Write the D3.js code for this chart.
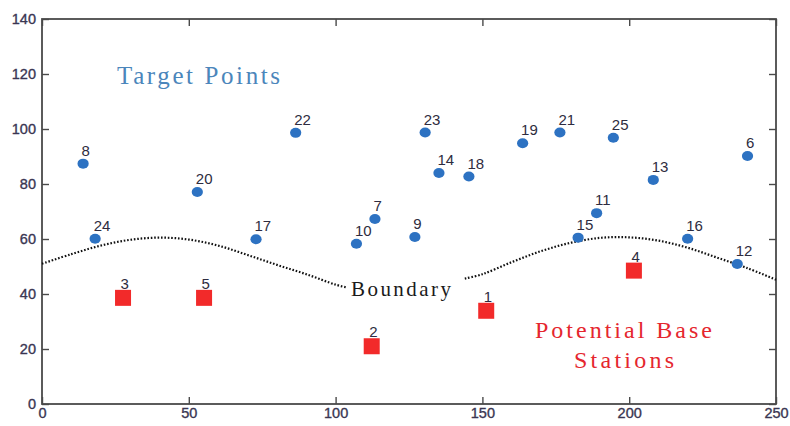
<!DOCTYPE html>
<html>
<head>
<meta charset="utf-8">
<script src="https://cdn.jsdelivr.net/npm/d3@7/dist/d3.min.js"></script>
<style>
  html, body { margin: 0; padding: 0; background: #fff; }
  svg { display: block; }
</style>
</head>
<body>
<svg id="chart" width="790" height="426"></svg>
<script>
// Target points (id, x, y)
const targetIds = [6, 7, 8, 9, 10, 11, 12, 13, 14, 15, 16, 17, 18, 19, 20, 21, 22, 23, 24, 25];
const targetX   = [240.3, 113.4, 14.0, 127.0, 107.1, 188.9, 236.8, 208.2, 135.2, 182.6, 219.9, 72.9, 145.4, 163.7, 52.9, 176.4, 86.4, 130.5, 18.1, 194.6];
const targetY   = [90.2, 67.3, 87.4, 60.7, 58.3, 69.4, 50.9, 81.5, 84.0, 60.5, 60.1, 59.9, 82.7, 94.8, 77.1, 98.7, 98.6, 98.7, 60.1, 96.8];

// Potential base stations (id, x, y)
const stationIds = [1, 2, 3, 4, 5];
const stationX   = [151.3, 112.3, 27.6, 201.6, 55.2];
const stationY   = [33.9, 21.0, 38.6, 48.5, 38.6];

// Boundary curve, drawn in two pieces around its label
const boundaryLeftX  = [0, 10, 20, 30, 40, 50, 60, 70, 80, 90, 100, 104];
const boundaryLeftY  = [51, 54.5, 57.6, 59.7, 60.5, 59.8, 57.6, 54.2, 50.6, 47.2, 43.4, 42.3];
const boundaryRightX = [144, 150, 160, 170, 180, 190, 200, 210, 220, 230, 240, 250];
const boundaryRightY = [45.6, 47.2, 51.6, 55.6, 58.6, 60.4, 60.6, 59.4, 56.8, 53.2, 49.5, 45.2];

// Axis ticks
const xTicks = [0, 50, 100, 150, 200, 250];
const yTicks = [0, 20, 40, 60, 80, 100, 120, 140];

const W = 790, H = 426;
const margin = { top: 19, right: 14, bottom: 22, left: 42 };

const svg = d3.select("#chart");

const x = d3.scaleLinear().domain([0, 250]).range([margin.left, W - margin.right]);
const y = d3.scaleLinear().domain([0, 140]).range([H - margin.bottom, margin.top]);

const axisColor = "#4a4a4a";
const tickTextColor = "#3a3652";
const tickLen = 7;

// Frame ticks on all four sides, pointing inward
svg.append("g")
  .attr("transform", `translate(0,${y(0)})`)
  .call(d3.axisBottom(x).tickValues(xTicks).tickSizeInner(-tickLen).tickSizeOuter(0).tickPadding(4))
  .call(g => g.select(".domain").remove());

svg.append("g")
  .attr("transform", `translate(${x(0)},0)`)
  .call(d3.axisLeft(y).tickValues(yTicks).tickSizeInner(-tickLen).tickSizeOuter(0).tickPadding(6))
  .call(g => g.select(".domain").remove());

svg.append("g")
  .attr("transform", `translate(0,${y(140)})`)
  .call(d3.axisTop(x).tickValues(xTicks).tickSizeInner(-tickLen).tickSizeOuter(0).tickFormat(""))
  .call(g => g.select(".domain").remove());

svg.append("g")
  .attr("transform", `translate(${x(250)},0)`)
  .call(d3.axisRight(y).tickValues(yTicks).tickSizeInner(-tickLen).tickSizeOuter(0).tickFormat(""))
  .call(g => g.select(".domain").remove());

svg.selectAll(".tick line").attr("stroke", axisColor).attr("stroke-width", 1.4);
svg.selectAll(".tick text")
  .attr("fill", tickTextColor)
  .attr("stroke", tickTextColor)
  .attr("stroke-width", 0.35)
  .style("font-family", "'Liberation Sans', Arial, sans-serif")
  .style("font-size", "14.5px");

// Plot box
svg.append("rect")
  .attr("x", x(0)).attr("y", y(140))
  .attr("width", x(250) - x(0)).attr("height", y(0) - y(140))
  .attr("fill", "none").attr("stroke", axisColor).attr("stroke-width", 1.8);

// Boundary (dotted)
const line = d3.line().x(d => x(d[0])).y(d => y(d[1])).curve(d3.curveCatmullRom);
[[boundaryLeftX, boundaryLeftY], [boundaryRightX, boundaryRightY]].forEach(([bx, by]) => {
  svg.append("path")
    .datum(bx.map((v, i) => [v, by[i]]))
    .attr("d", line)
    .attr("fill", "none")
    .attr("stroke", "#111")
    .attr("stroke-width", 2.2)
    .attr("stroke-dasharray", "1.6,1.8");
});

const labelFont = "'Liberation Sans', Arial, sans-serif";

// Target point labels and markers
const targets = targetIds.map((id, i) => ({ id, x: targetX[i], y: targetY[i] }));
svg.append("g").selectAll("text")
  .data(targets).join("text")
  .attr("x", d => x(d.x) - 1.5)
  .attr("y", d => y(d.y) - 8)
  .attr("fill", "#2e2c40")
  .style("font-family", labelFont)
  .style("font-size", "15px")
  .text(d => d.id);

svg.append("g").selectAll("ellipse")
  .data(targets).join("ellipse")
  .attr("cx", d => x(d.x))
  .attr("cy", d => y(d.y))
  .attr("rx", 5.6).attr("ry", 5)
  .attr("fill", "#2d72c2");

// Base station labels and markers
const stations = stationIds.map((id, i) => ({ id, x: stationX[i], y: stationY[i] }));
svg.append("g").selectAll("text")
  .data(stations).join("text")
  .attr("x", d => x(d.x) - 2.5)
  .attr("y", d => y(d.y) - 9)
  .attr("fill", "#2e2c40")
  .style("font-family", labelFont)
  .style("font-size", "15px")
  .text(d => d.id);

const sq = 16;
svg.append("g").selectAll("rect")
  .data(stations).join("rect")
  .attr("x", d => x(d.x) - sq / 2)
  .attr("y", d => y(d.y) - sq / 2)
  .attr("width", sq).attr("height", sq)
  .attr("fill", "#f22a2a");

// Annotations
const noteFont = "'Liberation Serif', 'DejaVu Serif', serif";
function note(txt, px, py, width, color, size) {
  svg.append("text")
    .attr("x", px).attr("y", py)
    .attr("textLength", width).attr("lengthAdjust", "spacing")
    .attr("fill", color)
    .style("font-family", noteFont)
    .style("font-size", size + "px")
    .text(txt);
}
note("Target Points", 117, 84, 163, "#4b86bb", 25);
note("Boundary", 351, 296, 100, "#1a1a1a", 21);
note("Potential Base", 535, 338, 177, "#e5262e", 24);
note("Stations", 574, 368, 100, "#e5262e", 24);
</script>
</body>
</html>
